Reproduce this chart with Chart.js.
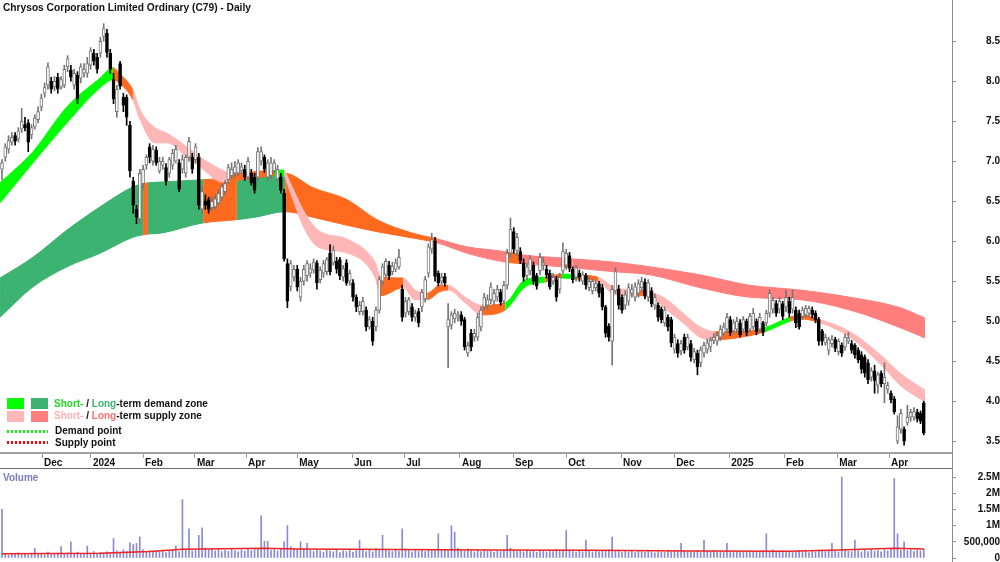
<!DOCTYPE html>
<html><head><meta charset="utf-8">
<script src="https://cdn.jsdelivr.net/npm/chart.js@4.4.1/dist/chart.umd.min.js"></script>
<style>
html,body{margin:0;padding:0;background:#fff;}
#wrap{position:relative;width:1000px;height:562px;overflow:hidden;font-family:"Liberation Sans",Arial,sans-serif;}
canvas{position:absolute;left:0;}
.t{position:absolute;font-weight:bold;font-size:10px;line-height:12px;white-space:nowrap;color:#111;}
.sw{position:absolute;width:17px;height:11px;}
.dot{position:absolute;width:41px;height:3px;}
</style></head><body>
<div id="wrap">
<canvas id="price" width="1000" height="468" style="top:0;width:1000px;height:468px"></canvas>
<canvas id="vol" width="1000" height="94" style="top:468px;width:1000px;height:94px"></canvas>
<div style="position:absolute;left:0;top:468px;width:952px;height:1px;background:#6e6e6e"></div>
<div style="position:absolute;left:952px;top:0;width:1px;height:562px;background:#8c8c8c"></div>
<div class="t" style="left:3px;top:2px;font-size:10.2px">Chrysos Corporation Limited Ordinary (C79) - Daily</div>

<div class="sw" style="left:7px;top:398px;background:#00ff00"></div>
<div class="sw" style="left:31px;top:398px;background:#3cb371"></div>
<div class="t" style="left:54px;top:398px"><span style="color:#22dd22">Short-</span> / <span style="color:#3cb371">Long</span>-term demand zone</div>
<div class="sw" style="left:7px;top:411px;background:#ffb6b6"></div>
<div class="sw" style="left:31px;top:411px;background:#ff7f7f"></div>
<div class="t" style="left:54px;top:410px"><span style="color:#ffb0b0">Short-</span> / <span style="color:#ff7070">Long</span>-term supply zone</div>
<div class="dot" style="left:7px;top:430px;background:repeating-linear-gradient(to right,#00ff00 0 2px,transparent 2px 4px)"></div>
<div class="t" style="left:55px;top:425px">Demand point</div>
<div class="dot" style="left:7px;top:441px;background:repeating-linear-gradient(to right,#ff0000 0 2px,transparent 2px 4px)"></div>
<div class="t" style="left:55px;top:437px">Supply point</div>

<div class="t" style="left:3px;top:472px;color:#7b7bc0">Volume</div>
</div>
<script>
// ---------- DATA ----------
const monthLabels = ['Dec','2024','Feb','Mar','Apr','May','Jun','Jul','Aug','Sep','Oct','Nov','Dec','2025','Feb','Mar','Apr'];
const monthStartIdx = [12.2,27.1,43.0,58.8,74.4,90.0,106.7,122.6,139.6,155.8,172.0,188.7,204.9,221.7,238.4,254.6,270.4];
const priceTicks = [3.5,4.0,4.5,5.0,5.5,6.0,6.5,7.0,7.5,8.0,8.5];
const volTicks = [0,500000,1000000,1500000,2000000,2500000];

const openP = [6.90,7.05,7.15,7.24,7.32,7.28,7.40,7.46,7.48,7.33,
7.43,7.52,7.68,7.85,7.95,8.00,7.93,8.05,7.93,7.95,
8.18,8.14,7.95,8.08,8.04,8.10,8.10,8.20,8.35,8.30,
8.35,8.56,8.60,8.35,8.02,7.62,8.22,7.80,7.80,7.45,
6.75,6.40,6.28,6.72,6.95,7.18,7.00,7.14,6.88,6.95,
6.92,6.85,6.95,7.00,6.98,6.90,6.85,7.05,7.05,7.02,
7.05,6.40,6.50,6.52,6.42,6.43,6.48,6.55,6.62,6.77,
6.82,6.85,6.85,6.88,6.90,6.80,6.85,6.80,6.80,7.00,
7.05,6.80,6.82,6.88,6.78,6.80,6.60,5.72,5.43,5.55,
5.65,5.30,5.50,5.57,5.60,5.64,5.73,5.52,5.60,5.62,
5.85,5.73,5.75,5.77,5.55,5.73,5.50,5.48,5.30,5.12,
5.12,5.14,4.93,5.00,4.93,5.14,5.50,5.58,5.70,5.62,
5.65,5.68,5.40,5.10,5.12,5.18,5.05,5.12,5.18,5.28,
5.60,5.90,6.00,5.60,5.50,5.56,4.93,4.95,5.03,5.05,
5.08,5.02,4.60,4.85,4.80,4.80,4.93,5.18,5.20,5.27,
5.25,5.30,5.36,5.25,5.45,5.85,6.12,5.88,5.87,5.73,
5.57,5.63,5.70,5.57,5.63,5.70,5.65,5.60,5.50,5.52,
5.40,5.63,5.70,5.82,5.65,5.55,5.60,5.50,5.57,5.42,
5.38,5.42,5.47,5.42,5.18,4.94,4.75,5.38,5.40,5.30,
5.20,5.25,5.35,5.30,5.35,5.42,5.49,5.30,5.38,5.20,
5.20,5.15,4.98,5.05,5.02,4.65,4.72,4.63,4.80,4.68,
4.72,4.52,4.60,4.48,4.60,4.65,4.68,4.76,4.75,4.80,
4.85,4.90,5.02,4.88,4.90,4.98,4.90,5.00,4.90,4.93,
5.00,4.90,4.98,4.98,5.10,5.15,5.22,5.15,5.22,5.18,
5.25,5.15,5.14,5.10,5.06,5.08,5.10,5.14,5.10,5.02,
4.88,4.73,4.64,4.72,4.77,4.62,4.70,4.68,4.75,4.72,
4.70,4.64,4.58,4.55,4.48,4.30,4.38,4.20,4.35,4.22,
4.15,4.10,4.03,3.50,3.65,3.65,3.73,3.80,3.80,3.86,
3.85,3.98];
const highP = [7.02,7.22,7.32,7.36,7.36,7.42,7.66,7.55,7.52,7.46,
7.58,7.68,7.84,7.98,8.23,8.05,8.06,8.10,8.06,8.20,
8.32,8.20,8.15,8.12,8.22,8.22,8.30,8.42,8.40,8.35,
8.55,8.72,8.65,8.40,8.10,7.95,8.25,7.85,7.83,7.50,
6.80,6.45,6.90,6.95,7.08,7.22,7.20,7.18,7.05,7.05,
6.97,7.05,7.15,7.20,7.02,7.08,7.08,7.30,7.10,7.22,
7.10,6.68,6.58,6.55,6.56,6.58,6.65,6.72,6.76,6.96,
6.98,7.00,7.02,6.98,6.95,7.05,6.90,6.85,7.17,7.18,
7.08,7.02,7.05,7.02,6.95,6.85,6.65,5.78,5.76,5.70,
5.70,5.55,5.70,5.76,5.72,5.78,5.76,5.68,5.76,5.80,
5.96,5.94,5.80,5.80,5.70,5.77,5.64,5.52,5.33,5.25,
5.30,5.18,5.06,5.05,5.18,5.56,5.72,5.78,5.75,5.74,
5.78,5.90,5.45,5.30,5.30,5.22,5.14,5.16,5.40,5.56,
5.97,6.10,6.05,5.63,5.60,5.60,5.22,5.12,5.15,5.12,
5.12,5.05,4.74,4.90,4.90,5.10,5.18,5.35,5.33,5.48,
5.40,5.45,5.40,5.50,5.90,6.29,6.17,6.10,5.92,5.78,
5.72,5.82,5.74,5.60,5.85,5.80,5.70,5.64,5.60,5.56,
5.60,5.98,5.90,5.86,5.68,5.70,5.64,5.62,5.60,5.55,
5.53,5.50,5.50,5.46,5.20,4.97,5.45,5.67,5.45,5.33,
5.38,5.47,5.46,5.48,5.52,5.55,5.53,5.52,5.42,5.34,
5.23,5.18,5.18,5.08,5.05,4.84,4.77,4.76,4.84,4.84,
4.76,4.66,4.64,4.68,4.74,4.78,4.80,4.85,4.86,4.95,
4.98,5.10,5.06,5.02,5.05,5.02,5.06,5.03,5.10,5.16,
5.03,5.10,5.00,5.14,5.39,5.30,5.26,5.30,5.25,5.39,
5.30,5.39,5.18,5.14,5.18,5.20,5.19,5.18,5.13,5.05,
4.90,4.84,4.80,4.82,4.80,4.78,4.73,4.84,4.86,4.76,
4.72,4.67,4.62,4.58,4.52,4.42,4.45,4.36,4.38,4.48,
4.24,4.13,4.06,3.82,3.90,3.68,3.95,3.90,3.92,3.90,
3.88,4.00];
const lowP = [6.77,7.00,7.10,7.20,7.20,7.24,7.36,7.38,7.12,7.28,
7.40,7.48,7.63,7.80,7.90,7.85,7.88,7.85,7.90,7.92,
8.12,8.00,7.90,7.72,7.98,8.05,8.05,8.15,8.20,8.10,
8.30,8.50,8.30,8.10,7.72,7.55,7.90,7.62,7.45,6.80,
6.35,6.22,6.22,6.65,6.90,6.98,6.95,6.95,6.85,6.90,
6.70,6.80,6.90,6.98,6.62,6.85,6.80,7.00,6.85,6.98,
6.40,6.35,6.40,6.35,6.38,6.40,6.45,6.50,6.58,6.72,
6.78,6.80,6.82,6.85,6.76,6.78,6.70,6.60,6.76,6.95,
6.86,6.75,6.78,6.85,6.75,6.60,5.75,5.17,5.38,5.50,
5.38,5.25,5.45,5.50,5.55,5.60,5.40,5.48,5.55,5.58,
5.58,5.70,5.60,5.52,5.50,5.45,5.45,5.25,5.12,5.08,
5.08,4.88,4.90,4.70,4.88,5.10,5.45,5.55,5.52,5.58,
5.62,5.65,5.00,5.05,5.08,5.00,5.00,4.93,5.12,5.24,
5.55,5.85,5.50,5.44,5.46,5.44,4.42,4.90,4.98,5.00,
4.95,4.64,4.56,4.63,4.75,4.76,4.88,5.14,5.15,5.22,
5.20,5.25,5.20,5.22,5.40,5.80,5.85,5.82,5.72,5.50,
5.52,5.58,5.46,5.40,5.58,5.64,5.54,5.40,5.46,5.25,
5.35,5.60,5.65,5.62,5.48,5.50,5.50,5.46,5.40,5.38,
5.34,5.38,5.30,5.14,4.80,4.75,4.45,5.35,5.15,5.10,
5.15,5.20,5.30,5.25,5.30,5.38,5.28,5.25,5.18,5.15,
5.00,4.98,4.94,4.88,4.68,4.60,4.55,4.58,4.60,4.64,
4.50,4.48,4.33,4.43,4.55,4.60,4.62,4.72,4.70,4.76,
4.82,4.86,4.82,4.84,4.86,4.80,4.86,4.82,4.86,4.90,
4.83,4.86,4.82,4.94,5.05,5.10,5.06,5.10,5.02,5.12,
5.05,5.10,4.92,4.90,5.02,5.05,5.06,5.04,4.98,4.70,
4.70,4.70,4.58,4.68,4.62,4.58,4.56,4.64,4.72,4.60,
4.54,4.48,4.35,4.30,4.22,4.25,4.10,4.10,4.18,3.98,
4.10,3.98,3.84,3.47,3.60,3.45,3.70,3.75,3.76,3.74,
3.72,3.58];
const closeP = [6.98,7.18,7.26,7.30,7.25,7.38,7.50,7.42,7.24,7.42,
7.54,7.62,7.79,7.92,8.18,7.90,8.00,7.90,8.02,8.15,
8.28,8.05,8.10,7.78,8.18,8.15,8.22,8.38,8.25,8.15,
8.50,8.66,8.36,8.15,7.78,7.90,7.94,7.70,7.55,6.88,
6.45,6.30,6.85,6.90,7.05,7.05,7.15,6.98,7.00,7.00,
6.75,7.02,7.10,7.15,6.65,7.02,7.05,7.25,6.90,7.18,
6.45,6.62,6.45,6.40,6.50,6.53,6.60,6.68,6.72,6.92,
6.90,6.93,6.98,6.93,6.80,7.00,6.73,6.64,7.12,7.12,
6.90,6.98,6.98,6.98,6.90,6.64,5.78,5.25,5.72,5.65,
5.43,5.50,5.65,5.72,5.66,5.74,5.48,5.64,5.72,5.77,
5.62,5.89,5.65,5.57,5.66,5.48,5.60,5.30,5.18,5.20,
5.25,4.93,5.02,4.75,5.14,5.52,5.68,5.75,5.57,5.69,
5.73,5.80,5.05,5.25,5.27,5.05,5.10,4.98,5.36,5.52,
5.93,6.02,5.56,5.48,5.55,5.48,5.02,5.08,5.10,5.08,
5.00,4.68,4.70,4.68,4.85,5.05,5.14,5.30,5.27,5.43,
5.35,5.40,5.24,5.45,5.85,6.15,5.90,6.05,5.76,5.55,
5.68,5.78,5.50,5.44,5.80,5.73,5.58,5.43,5.55,5.30,
5.55,5.87,5.85,5.66,5.52,5.67,5.55,5.58,5.45,5.50,
5.50,5.47,5.35,5.18,4.85,4.80,5.40,5.62,5.20,5.14,
5.33,5.42,5.40,5.43,5.47,5.50,5.32,5.48,5.22,5.30,
5.05,5.02,5.14,4.93,4.73,4.80,4.60,4.72,4.64,4.80,
4.55,4.62,4.43,4.64,4.70,4.73,4.76,4.80,4.82,4.90,
4.93,5.05,4.86,4.98,5.00,4.83,5.02,4.86,5.06,5.10,
4.87,5.05,4.86,5.10,5.35,5.26,5.10,5.25,5.06,5.30,
5.10,5.30,4.98,4.93,5.14,5.16,5.16,5.08,5.02,4.75,
4.75,4.80,4.77,4.77,4.66,4.75,4.60,4.80,4.79,4.64,
4.58,4.52,4.40,4.35,4.27,4.38,4.26,4.33,4.22,4.30,
4.20,4.02,3.87,3.68,3.85,3.50,3.80,3.86,3.87,3.78,
3.75,3.60];
// volume in thousands of shares
const volumeK = [1500,120,90,140,110,160,100,130,90,150, 300,120,140,100,180,110,130,150,350,140,
160,500,130,180,140,120,370,150,200,130, 170,140,190,160,600,220,180,250,200,470,
420,450,650,260,200,230,180,210,190,240, 170,220,250,370,200,1800,260,900,220,230,
700,930,310,250,280,220,260,200,240,210, 270,230,190,250,210,280,230,260,300,1300,
520,520,240,260,220,280,500,1000,350,300, 260,500,280,450,240,200,260,220,180,250,
210,190,240,170,220,200,250,180,230,550, 260,200,240,190,280,230,700,260,220,200,
240,210,900,280,230,190,260,210,240,200, 270,230,250,750,260,240,220,1000,800,300,
250,210,280,230,190,240,200,260,220,210, 180,230,200,240,700,300,250,210,230,190,
250,200,220,180,240,210,190,230,200,260, 210,240,850,230,200,180,220,190,550,210,
190,230,200,240,210,260,650,240,200,180, 220,190,210,170,230,200,180,210,190,160,
200,180,170,210,190,230,200,450,210,190, 180,200,230,170,550,210,190,220,180,200,
170,450,190,210,180,200,170,190,220,180, 200,190,230,750,210,250,200,180,220,190,
210,180,200,230,190,210,170,200,190,220, 240,200,230,450,210,190,2500,230,210,200,
550,220,190,240,200,260,210,230,190,250, 220,280,2450,750,240,500,230,260,200,240, 220,280];
const volMaIdx = [0,30,45,55,80,90,120,150,180,210,240,255,272,281];
const volMaK   = [130,150,200,270,300,280,260,250,240,220,210,250,300,280];

// zone bands (sampled at bar index); zone code applies to the segment that follows the sample
const shortIdx = [-0.6,9.45,19.8,29.9,33.8,36.0,39.9,42.1,46.6,50.3,56.7,60.4,67.1,69.5,77.1,83.2,86.0,87.2,92.4,96.3,105.5,113.7,115.5,122.3,125.9,129.6,133.5,136.0,141.2,146.3,153.4,159.5,165.5,170.7,174.7,181.7,186.9,193.6,197.6,202.7,207.6,212.8,217.4,228.0,232.6,240.2,243.3,249.4,258.5,268.6,273.8,281.4];
const shortHi  = [6.73,7.12,7.68,8.04,8.17,8.09,7.89,7.64,7.42,7.35,7.17,7.05,6.89,6.85,6.87,6.89,6.89,6.79,6.35,6.14,6.02,5.74,5.55,5.54,5.39,5.35,5.45,5.45,5.30,5.20,5.23,5.52,5.55,5.59,5.58,5.55,5.42,5.39,5.37,5.27,5.10,4.93,4.87,4.88,4.92,5.05,5.08,5.02,4.87,4.55,4.35,4.14];
const shortLo  = [6.48,6.98,7.48,7.92,8.02,7.97,7.77,7.52,7.23,7.23,7.04,6.93,6.74,6.75,6.79,6.82,6.82,6.69,6.14,5.93,5.85,5.55,5.32,5.42,5.27,5.27,5.37,5.39,5.23,5.08,5.14,5.43,5.49,5.54,5.53,5.50,5.33,5.32,5.30,5.14,4.98,4.80,4.77,4.82,4.87,5.00,5.03,4.98,4.80,4.43,4.20,3.99];
const shortZone = ['D','D','D','D','M','M','S','S','S','S','S','S','S','M','M','D','S','S','S','S','S','S','M','S','S','M','M','S','S','M','D','D','M','D','M','S','S','M','S','S','S','S','M','M','D','M','M','S','S','S','S','S'];
const longIdx = [-0.6,9.45,19.8,29.9,39.9,43.0,44.5,48.2,61.3,71.6,77.1,86.3,94.8,105.2,114.3,125.3,132.6,141.8,153.4,158.5,171.0,173.8,186.3,197.6,212.8,228.0,243.3,258.5,273.8,281.4];
const longHi  = [5.54,5.80,6.14,6.43,6.68,6.72,6.73,6.74,6.77,6.80,6.85,6.85,6.67,6.52,6.27,6.10,6.03,5.93,5.87,5.83,5.79,5.78,5.74,5.68,5.58,5.45,5.39,5.30,5.17,5.04];
const longLo  = [5.05,5.43,5.68,5.85,6.05,6.08,6.09,6.10,6.23,6.27,6.30,6.37,6.30,6.20,6.12,6.04,5.98,5.85,5.74,5.72,5.68,5.67,5.62,5.58,5.42,5.30,5.27,5.14,4.92,4.79];
const longZone = ['D','D','D','D','D','M','D','D','M','D','D','M','M','M','M','M','S','S','M','S','M','S','S','S','S','S','S','S','S','S'];

// ---------- STYLE ----------
const SHORT_C = {D:'#00ff00', S:'#ffb6b6', M:'#ff6a1f'};
const LONG_C  = {D:'#3cb371', S:'#ff7f7f', M:'#ff6a1f'};
const UP_EDGE = '#767676', DOWN = '#000000';
const FONT = {family:'Liberation Sans', size:10, weight:'bold'};
const X_MIN = -0.61, X_MAX = 289.6;

Chart.defaults.font.family = 'Liberation Sans';
Chart.defaults.animation = false;

const wick = [], body = [], wickCol = [], bodyFill = [], bodyEdge = [];
for (let i = 0; i < openP.length; i++) {
  const up = closeP[i] >= openP[i];
  wick.push({x:i, y:[lowP[i], highP[i]]});
  body.push({x:i, y:[openP[i], closeP[i]]});
  wickCol.push(up ? UP_EDGE : DOWN);
  bodyFill.push(up ? '#ffffff' : DOWN);
  bodyEdge.push(up ? UP_EDGE : DOWN);
}
const pts = (xs, ys) => xs.map((x, k) => ({x, y: ys[k]}));
const bandLine = (xs, ys, zones, pal, fill, order) => ({
  type:'line', data: pts(xs, ys), fill, order,
  pointRadius:0, borderWidth:1, cubicInterpolationMode:'monotone',
  borderColor: pal[zones[0]], backgroundColor: pal[zones[0]],
  segment:{ borderColor: c => pal[zones[c.p0DataIndex]], backgroundColor: c => pal[zones[c.p0DataIndex]] }
});
const fixY = w => s => { s.width = w; s.paddingTop = 0; s.paddingBottom = 0; };

new Chart(document.getElementById('price'), {
  type:'bar',
  data:{ datasets:[
    bandLine(longIdx, longHi, longZone, LONG_C, false, 6),
    bandLine(longIdx, longLo, longZone, LONG_C, '-1', 6),
    bandLine(shortIdx, shortHi, shortZone, SHORT_C, false, 5),
    bandLine(shortIdx, shortLo, shortZone, SHORT_C, '-1', 5),
    {type:'bar', data:wick, backgroundColor:wickCol, barThickness:1, grouped:false, order:1, borderWidth:0},
    {type:'bar', data:body, backgroundColor:bodyFill, borderColor:bodyEdge, borderWidth:1, borderSkipped:false, barThickness:3, grouped:false, order:0}
  ]},
  options:{
    responsive:false, events:[], devicePixelRatio:1,
    layout:{padding:0},
    plugins:{legend:{display:false}, tooltip:{enabled:false}},
    scales:{
      x:{ type:'linear', min:X_MIN, max:X_MAX, offset:false,
        afterBuildTicks: s => { s.ticks = monthStartIdx.map(v => ({value:v})); },
        afterFit: s => { s.height = 15; s.paddingLeft = 0; s.paddingRight = 0; },
        grid:{drawOnChartArea:false, offset:false, tickLength:5, color:'#9a9a9a'},
        border:{display:true, color:'#a0a0a0', width:2},
        ticks:{autoSkip:false, maxRotation:0, align:'start', labelOffset:2, padding:-1, color:'#111', font:FONT,
               callback:(v, i) => monthLabels[i]} },
      y:{ type:'linear', position:'right', min:3.353, max:9.016,
        afterBuildTicks: s => { s.ticks = priceTicks.map(v => ({value:v})); },
        afterFit: fixY(48),
        grid:{drawOnChartArea:false, tickLength:4, color:'#8c8c8c'},
        border:{display:true, color:'#8c8c8c', width:1},
        ticks:{padding:29, crossAlign:'far', color:'#111', font:FONT, callback: v => Number(v).toFixed(1)} }
    }
  }
});

const volLabel = v => v === 0 ? '0' : (v < 1000000 ? v.toLocaleString('en-US') : (v/1000000) + 'M');
new Chart(document.getElementById('vol'), {
  type:'bar',
  data:{ datasets:[
    {type:'line', data: volMaIdx.map((x,k)=>({x, y:volMaK[k]*1000})), borderColor:'#ee2222', borderWidth:1.5, pointRadius:0, fill:false, order:0},
    {type:'bar', data: volumeK.map((v,i)=>({x:i, y:v*1000})), backgroundColor:'#8a8ad8', barThickness:1, grouped:false, order:1, borderWidth:0}
  ]},
  options:{
    responsive:false, events:[], devicePixelRatio:1,
    layout:{padding:{top:0, bottom:4, left:0, right:0}},
    plugins:{legend:{display:false}, tooltip:{enabled:false}},
    scales:{
      x:{ type:'linear', min:X_MIN, max:X_MAX, offset:false, grid:{offset:false}, display:false },
      y:{ type:'linear', position:'right', min:0, max:2780000,
        afterBuildTicks: s => { s.ticks = volTicks.map(v => ({value:v})); },
        afterFit: fixY(48),
        grid:{drawOnChartArea:false, tickLength:4, color:'#8c8c8c'},
        border:{display:true, color:'#8c8c8c', width:1},
        ticks:{padding:7, crossAlign:'far', color:'#111', font:FONT, callback: v => volLabel(v)} }
    }
  }
});
</script>
</body></html>
